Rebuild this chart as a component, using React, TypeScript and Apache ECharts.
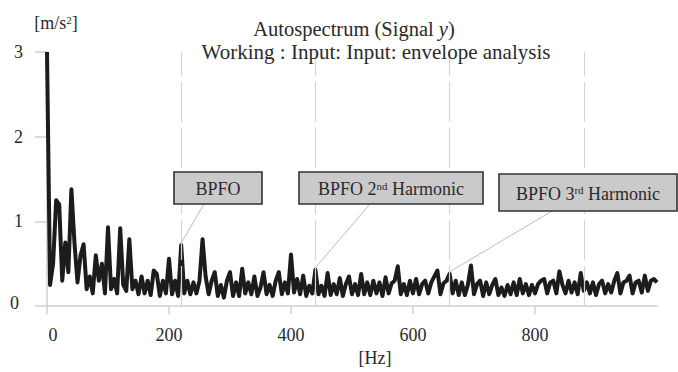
import React, { useEffect, useRef } from "react";
import * as echarts from "echarts";

// Spectrum values, 5 Hz bins from 0 to 1000 Hz  [m/s^2]
const freqStep = 5;
const values = [
  3.0, 0.25, 0.5, 1.25, 1.2, 0.3, 0.75, 0.4, 1.38, 0.75,
  0.28, 0.6, 0.73, 0.2, 0.35, 0.15, 0.6, 0.3, 0.5, 0.15,
  0.93, 0.2, 0.32, 0.15, 0.92, 0.25, 0.18, 0.79, 0.2, 0.3,
  0.14, 0.35, 0.15, 0.3, 0.13, 0.42, 0.38, 0.12, 0.3, 0.15,
  0.56, 0.14, 0.3, 0.12, 0.72, 0.15, 0.3, 0.14, 0.28, 0.15,
  0.3, 0.79, 0.35, 0.14, 0.3, 0.4, 0.12, 0.25, 0.1, 0.3,
  0.4, 0.12, 0.28, 0.12, 0.44, 0.15, 0.28, 0.14, 0.35, 0.12,
  0.22, 0.4, 0.14, 0.25, 0.12, 0.3, 0.4, 0.14, 0.28, 0.15,
  0.61, 0.16, 0.32, 0.14, 0.36, 0.12, 0.24, 0.15, 0.43, 0.14,
  0.24, 0.12, 0.39, 0.13, 0.26, 0.14, 0.33, 0.12, 0.26, 0.35,
  0.14, 0.26, 0.13, 0.38, 0.14, 0.28, 0.13, 0.3, 0.15, 0.28,
  0.12, 0.34, 0.15, 0.27, 0.3, 0.47, 0.14, 0.26, 0.13, 0.3,
  0.15, 0.32, 0.14, 0.26, 0.3, 0.15, 0.28, 0.35, 0.42, 0.14,
  0.27, 0.3, 0.38, 0.15, 0.3, 0.13, 0.28, 0.13, 0.25, 0.48,
  0.14, 0.26, 0.3, 0.12, 0.28, 0.14, 0.25, 0.32, 0.13, 0.22,
  0.12, 0.25, 0.14, 0.28, 0.13, 0.32, 0.15, 0.26, 0.13, 0.25,
  0.15, 0.26, 0.3, 0.32, 0.15, 0.28, 0.3, 0.15, 0.41, 0.25,
  0.15, 0.3, 0.16, 0.28, 0.14, 0.39, 0.18, 0.28, 0.15, 0.28,
  0.13, 0.26, 0.3, 0.15, 0.26, 0.16, 0.3, 0.39, 0.15, 0.28,
  0.3, 0.36, 0.15, 0.28, 0.3, 0.16, 0.36, 0.18, 0.3, 0.32,
  0.28,
];
const freqs = values.map((_, i) => i * freqStep);

// BPFO harmonic marker lines [Hz]
const harmonicFreqs = [220, 440, 660, 880];

// Annotated peaks
const annotFreqs = [220, 440, 660];
const annotTexts = [
  "{a|BPFO}",
  "{a|BPFO 2}{s|nd}{a| Harmonic}",
  "{a|BPFO 3}{s|rd}{a| Harmonic}",
];
// Box layout (pixels): x, y, w, h, leader start x
const annotBoxes = [
  [174, 172, 88, 32, 204],
  [299, 172, 184, 32, 370],
  [499, 174, 178, 37, 552],
];

const xTicks = { min: 0, max: 1000, interval: 200 };
const yTicks = { min: 0, max: 3, interval: 1 };

const FONT = "Liberation Serif";
const TXT = "#2a2a2a";

export default function App() {
  const ref = useRef<HTMLDivElement>(null);
  useEffect(() => {
    if (!ref.current) return;
    const chart = echarts.init(ref.current, undefined, { renderer: "svg" });
    const option: any = {
      animation: false,
      backgroundColor: "#ffffff",
      title: [
        {
          text: "{a|Autospectrum (Signal }{i|y}{a|)}",
          left: 349,
          top: 13,
          textAlign: "center",
          textStyle: {
            rich: {
              a: { fontFamily: FONT, fontSize: 20.5, color: TXT, fontWeight: "normal" },
              i: { fontFamily: FONT, fontSize: 20.5, color: TXT, fontStyle: "italic", fontWeight: "normal" },
            },
          },
        },
        {
          text: "Working : Input: Input: envelope analysis",
          left: 371,
          top: 36,
          textAlign: "center",
          textStyle: { fontFamily: FONT, fontSize: 21, color: TXT, fontWeight: "normal" },
        },
      ],
      grid: { left: 47, right: 21, top: 52, bottom: 59 },
      xAxis: {
        type: "value",
        min: xTicks.min,
        max: xTicks.max,
        interval: xTicks.interval,
        name: "[Hz]",
        nameLocation: "middle",
        nameGap: 36,
        nameTextStyle: { fontFamily: FONT, fontSize: 18, color: TXT, padding: [0, 0, 0, 46] },
        axisLine: { show: true, lineStyle: { color: "#cfcfcf", width: 1.5 } },
        axisTick: { show: true, length: 8, lineStyle: { color: "#cfcfcf", width: 1.5 } },
        axisLabel: {
          fontFamily: FONT,
          fontSize: 18,
          color: TXT,
          margin: 20,
          showMaxLabel: false,
          formatter: (v: number) => (v === 0 ? "{z|0}" : String(v)),
          rich: { z: { fontFamily: FONT, fontSize: 18, color: TXT, padding: [0, 0, 0, 12] } },
        },
        splitLine: { show: false },
      },
      yAxis: {
        type: "value",
        min: yTicks.min,
        max: yTicks.max,
        interval: yTicks.interval,
        name: "{a|[m/s}{s|2}{a|]}",
        nameLocation: "end",
        nameGap: 20,
        nameTextStyle: {
          align: "center",
          padding: [0, 0, 0, 18],
          rich: {
            a: { fontFamily: FONT, fontSize: 18, color: TXT },
            s: { fontFamily: FONT, fontSize: 11, color: TXT, verticalAlign: "top" },
          },
        },
        axisLine: { show: true, lineStyle: { color: "#cfcfcf", width: 1.5 } },
        axisTick: { show: true, length: 12, lineStyle: { color: "#cfcfcf", width: 1.5 } },
        axisLabel: {
          fontFamily: FONT,
          fontSize: 18,
          color: TXT,
          margin: 24,
          formatter: (v: number) => (v === 0 ? "{z|0}" : String(v)),
          rich: { z: { fontFamily: FONT, fontSize: 18, color: TXT, padding: [0, 4, 6, 0] } },
        },
        splitLine: { show: false },
      },
      series: [
        {
          type: "line",
          data: freqs.map((f, i) => [f, values[i]]),
          symbol: "none",
          lineStyle: { color: "#1c1c1c", width: 4, join: "round" },
          z: 3,
          markLine: {
            silent: true,
            symbol: "none",
            label: { show: false },
            lineStyle: { color: "#d4d4d4", width: 1.2, type: [40, 6] },
            data: harmonicFreqs.map((f) => ({ xAxis: f })),
          },
        },
      ],
    };
    chart.setOption(option);

    const graphics: any[] = [];
    annotFreqs.forEach((f, k) => {
      const idx = Math.round(f / freqStep);
      const p = chart.convertToPixel({ xAxisIndex: 0, yAxisIndex: 0 }, [f, values[idx]]) as number[];
      const [bx, by, bw, bh, lx] = annotBoxes[k];
      graphics.push({
        type: "line",
        z: 10,
        shape: { x1: lx, y1: by + bh, x2: p[0], y2: p[1] - 2 },
        style: { stroke: "#bdbdbd", lineWidth: 1 },
      });
      graphics.push({
        type: "rect",
        z: 11,
        shape: { x: bx, y: by, width: bw, height: bh },
        style: { fill: "#cacaca", stroke: "#333333", lineWidth: 1.6 },
      });
      graphics.push({
        type: "text",
        z: 12,
        x: bx + bw / 2,
        y: by + bh / 2 + 1,
        style: {
          text: annotTexts[k],
          align: "center",
          verticalAlign: "middle",
          rich: {
            a: { fontFamily: FONT, fontSize: 18, fill: TXT },
            s: { fontFamily: FONT, fontSize: 11, fill: TXT, verticalAlign: "top" },
          },
        },
      });
    });
    chart.setOption({ graphic: graphics });

    return () => chart.dispose();
  }, []);
  return (
    <div
      ref={ref}
      style={{ position: "fixed", left: 0, top: 0, width: 678, height: 372 }}
    />
  );
}
